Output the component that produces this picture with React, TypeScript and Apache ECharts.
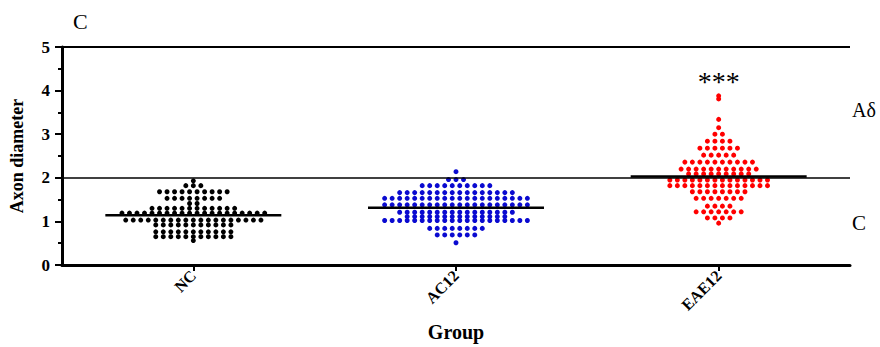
import React, { useEffect, useRef } from "react";
import * as echarts from "echarts";

// ---- data ----
const categories = ["NC", "AC12", "EAE12"];

// each group: row values (Axon diameter) and number of dots in that row
const ncRowValues = [1.93, 1.82, 1.68, 1.53, 1.41, 1.3, 1.19, 1.03, 0.92, 0.76, 0.65, 0.56];
const ncRowCounts = [1, 3, 10, 8, 2, 12, 20, 19, 11, 11, 11, 1];

const ac12RowValues = [2.14, 1.96, 1.82, 1.66, 1.53, 1.38, 1.21, 1.11, 1.02, 0.84, 0.69, 0.51];
const ac12RowCounts = [1, 3, 10, 16, 20, 20, 16, 14, 20, 8, 6, 1];

const eae12RowValues = [3.88, 3.81, 3.34, 3.15, 3.0, 2.84, 2.68, 2.52, 2.36, 2.2, 2.09, 1.95, 1.82, 1.68, 1.53, 1.35, 1.22, 1.08, 0.96];
const eae12RowCounts = [1, 1, 1, 1, 2, 4, 6, 5, 10, 11, 9, 14, 14, 8, 7, 4, 7, 4, 1];

const groupColors = ["#000000", "#0a0ad0", "#ff0000"];
const referenceLines = [2, 5];
const significanceMarks = ["", "", "***"];

const FONT = "'Liberation Serif', 'Times New Roman', serif";
const DOT_STEP = 0.0286; // horizontal spacing of dots in category units
const MEAN_HALF = 0.335;

function expandRows(values: number[], counts: number[], center: number) {
  const pts: number[][] = [];
  values.forEach((v, r) => {
    const n = counts[r];
    for (let k = 0; k < n; k++) {
      pts.push([center + (k - (n - 1) / 2) * DOT_STEP, v]);
    }
  });
  return pts;
}

function mean(values: number[], counts: number[]) {
  let s = 0;
  let n = 0;
  values.forEach((v, i) => {
    s += v * counts[i];
    n += counts[i];
  });
  return s / n;
}

export default function App() {
  const ref = useRef<HTMLDivElement>(null);

  useEffect(() => {
    document.body.style.margin = "0";
    if (!ref.current) return;
    const chart = echarts.init(ref.current, undefined, { renderer: "svg" });

    const groups = [
      { values: ncRowValues, counts: ncRowCounts },
      { values: ac12RowValues, counts: ac12RowCounts },
      { values: eae12RowValues, counts: eae12RowCounts },
    ];

    const scatterSeries = groups.map((g, i) => ({
      type: "scatter",
      name: categories[i],
      xAxisIndex: 1,
      yAxisIndex: 0,
      symbol: "circle",
      symbolSize: 5,
      itemStyle: { color: groupColors[i], opacity: 1 },
      data: expandRows(g.values, g.counts, i),
      z: 3,
      markLine:
        i === 0
          ? {
              silent: true,
              symbol: ["none", "none"],
              label: { show: false },
              lineStyle: { color: "#000", type: "solid" },
              data: referenceLines.map((v) => ({
                yAxis: v,
                lineStyle: { color: "#000", type: "solid", width: v === 5 ? 2 : 1.5 },
              })),
            }
          : undefined,
    }));

    const meanSeries = groups.map((g, i) => {
      const m = mean(g.values, g.counts);
      return {
        type: "line",
        xAxisIndex: 1,
        yAxisIndex: 0,
        symbol: "none",
        lineStyle: { color: "#000", width: 2.5 },
        data: [
          [i - MEAN_HALF, m],
          [i + MEAN_HALF, m],
        ],
        z: 5,
        silent: true,
      };
    });

    const sigSeries = {
      type: "scatter",
      xAxisIndex: 1,
      yAxisIndex: 0,
      symbolSize: 1,
      itemStyle: { opacity: 0 },
      data: significanceMarks
        .map((t, i) => (t ? { value: [i, 4.22], label: { show: true, formatter: t } } : null))
        .filter(Boolean),
      label: {
        show: true,
        position: "inside",
        color: "#000",
        opacity: 1,
        fontSize: 28,
        fontFamily: FONT,
      },
      silent: true,
    };

    chart.setOption({
      animation: false,
      backgroundColor: "#ffffff",
      grid: { left: 62, right: 30, top: 47, bottom: 82, containLabel: false },
      xAxis: [
        {
          type: "category",
          data: categories,
          boundaryGap: true,
          position: "bottom",
          axisLine: { show: true, lineStyle: { color: "#000", width: 3 } },
          axisTick: { show: true, alignWithLabel: true, length: 6, lineStyle: { color: "#000", width: 2 } },
          axisLabel: {
            rotate: 45,
            color: "#000",
            fontWeight: "bold",
            fontSize: 16,
            fontFamily: FONT,
            margin: 8,
          },
          splitLine: { show: false },
          name: "Group",
          nameLocation: "middle",
          nameGap: 57,
          nameTextStyle: { color: "#000", fontWeight: "bold", fontSize: 20, fontFamily: FONT },
        },
        {
          type: "value",
          min: -0.5,
          max: 2.5,
          show: false,
        },
      ],
      yAxis: {
        type: "value",
        min: 0,
        max: 5,
        interval: 1,
        axisLine: { show: true, onZero: false, lineStyle: { color: "#000", width: 3 } },
        axisTick: { show: true, length: 7, lineStyle: { color: "#000", width: 2 } },
        minorTick: { show: true, splitNumber: 2, length: 4, lineStyle: { color: "#000", width: 2 } },
        splitLine: { show: false },
        axisLabel: { color: "#000", fontWeight: "bold", fontSize: 17, fontFamily: FONT, margin: 12 },
        name: "Axon diameter",
        nameLocation: "middle",
        nameGap: 36,
        nameRotate: 90,
        nameTextStyle: { color: "#000", fontWeight: "bold", fontSize: 18, fontFamily: FONT },
      },
      graphic: [
        {
          type: "text",
          left: 73,
          top: 10,
          style: { text: "C", fontSize: 22, fontFamily: FONT, fill: "#000" },
        },
        {
          type: "text",
          x: 852,
          y: 110,
          style: { text: "Aδ", fontSize: 20, fontFamily: FONT, fill: "#000", verticalAlign: "middle" },
        },
        {
          type: "text",
          x: 852,
          y: 223,
          style: { text: "C", fontSize: 21, fontFamily: FONT, fill: "#000", verticalAlign: "middle" },
        },
      ],
      series: [...scatterSeries, ...meanSeries, sigSeries],
    });

    return () => chart.dispose();
  }, []);

  return <div ref={ref} style={{ width: 880, height: 347 }} />;
}
